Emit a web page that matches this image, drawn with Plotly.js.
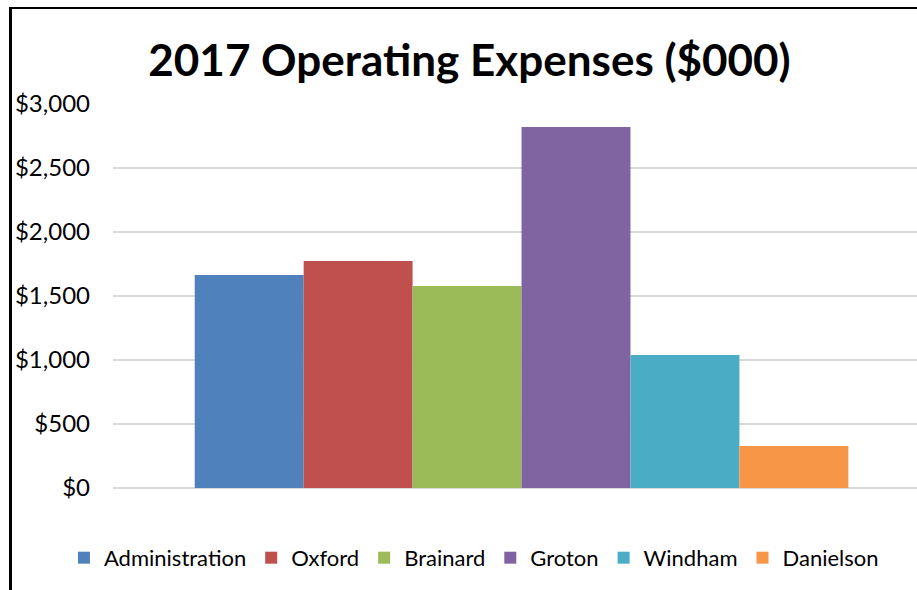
<!DOCTYPE html>
<html>
<head>
<meta charset="utf-8">
<script src="https://cdn.plot.ly/plotly-3.0.1.min.js"></script>
<style>
  html, body { margin: 0; padding: 0; background: #ffffff; overflow: hidden; }
  #wrap { position: relative; width: 917px; height: 590px; }
  #chart { position: absolute; left: 0; top: 0; width: 917px; height: 590px; }
  #frame { position: absolute; left: 9px; top: 7px; width: 920px; height: 600px;
           border-left: 3px solid #000; border-top: 2px solid #000; pointer-events: none; }
</style>
</head>
<body>
<div id="wrap">
  <div id="chart"></div>
  <div id="frame"></div>
</div>
<script>
const categories = ['2017'];
const seriesNames = ['Administration', 'Oxford', 'Brainard', 'Groton', 'Windham', 'Danielson'];
const seriesValues = [1664, 1773, 1578, 2820, 1039, 328];
const seriesColors = ['#4F81BD', '#C0504D', '#9BBB59', '#8064A2', '#4BACC6', '#F79646'];
const yTickValues = [0, 500, 1000, 1500, 2000, 2500, 3000];

const traces = seriesNames.map((name, i) => ({
  type: 'bar',
  name: name,
  x: categories,
  y: [seriesValues[i]],
  marker: { color: seriesColors[i], line: { width: 0 } },
  hoverinfo: 'name+y'
}));

const layout = {
  width: 917,
  height: 590,
  margin: { l: 113, r: 0, t: 104, b: 102, pad: 0, autoexpand: false },
  paper_bgcolor: 'rgba(0,0,0,0)',
  plot_bgcolor: 'rgba(0,0,0,0)',
  font: { family: 'Lato, "Open Sans", sans-serif', color: '#000000' },
  title: {
    text: '<b>2017 Operating Expenses ($000)</b>',
    font: { family: 'Lato, sans-serif', size: 44, color: '#000000' },
    xref: 'container', x: 0.512, xanchor: 'center',
    yref: 'container', y: 1 - 61 / 590, yanchor: 'middle'
  },
  barmode: 'group',
  bargap: 0.2,
  bargroupgap: 0,
  xaxis: {
    type: 'category',
    range: [-0.5, 0.484],
    showticklabels: false,
    showgrid: false,
    zeroline: false,
    showline: false,
    ticks: '',
    fixedrange: true
  },
  yaxis: {
    range: [0, 3000],
    tickvals: yTickValues,
    ticktext: yTickValues.map(v => '$' + v.toLocaleString('en-US')),
    showgrid: true,
    gridcolor: '#d9d9d9',
    gridwidth: 2,
    zeroline: true,
    zerolinecolor: '#d9d9d9',
    zerolinewidth: 2,
    showline: false,
    ticks: '',
    ticklabelstandoff: 22,
    tickfont: { family: 'Lato, sans-serif', size: 24, color: '#000000' },
    fixedrange: true
  },
  showlegend: true,
  legend: {
    orientation: 'h',
    xref: 'paper', x: -0.061, xanchor: 'left',
    yref: 'paper', y: -0.182, yanchor: 'middle',
    font: { family: 'Lato, sans-serif', size: 22, color: '#000000' },
    bgcolor: 'rgba(0,0,0,0)',
    traceorder: 'normal',
    itemwidth: 30
  }
};

Plotly.newPlot('chart', traces, layout, { displayModeBar: false, staticPlot: false });
</script>
</body>
</html>
